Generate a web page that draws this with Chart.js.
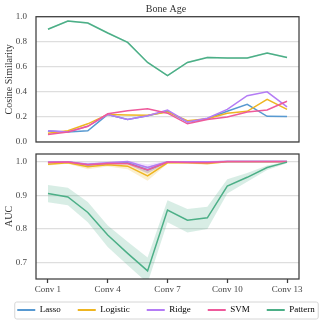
<!DOCTYPE html>
<html>
<head>
<meta charset="utf-8">
<script src="https://cdn.jsdelivr.net/npm/chart.js@4.4.1/dist/chart.umd.min.js"></script>
<style>
    html, body { margin: 0; padding: 0; background: #fff; }
    #quadro { position: relative; width: 332px; height: 325px; background: #fff; }
    #graficoCos { position: absolute; left: 0; top: 0; width: 332px; height: 150px; }
    #graficoAuc { position: absolute; left: 0; top: 150px; width: 332px; height: 175px; }
</style>
</head>
<body>
<div id="quadro">
    <canvas id="graficoCos" width="332" height="150"></canvas>
    <canvas id="graficoAuc" width="332" height="175"></canvas>
</div>
<script>
// ============================
// DADOS
// ============================
const camadas = [1, 2, 3, 4, 5, 6, 7, 8, 9, 10, 11, 12, 13];
const marcasX = [1, 4, 7, 10, 13];
const marcasCos = [0.0, 0.2, 0.4, 0.6, 0.8, 1.0];
const marcasAuc = [0.7, 0.8, 0.9, 1.0];
const modelos = ["Lasso", "Logistic", "Ridge", "SVM", "Pattern"];
const cores = ["#5799d1", "#eeb521", "#b47cf5", "#ee5a9b", "#4caf87"];

// similaridade de cosseno (painel de cima)
const cosLasso    = [0.088, 0.080, 0.090, 0.220, 0.180, 0.210, 0.245, 0.160, 0.185, 0.245, 0.300, 0.205, 0.203];
const cosLogistic = [0.070, 0.090, 0.145, 0.220, 0.215, 0.213, 0.240, 0.170, 0.185, 0.230, 0.245, 0.340, 0.260];
const cosRidge    = [0.090, 0.080, 0.125, 0.220, 0.180, 0.210, 0.255, 0.160, 0.190, 0.260, 0.370, 0.400, 0.280];
const cosSvm      = [0.060, 0.080, 0.125, 0.225, 0.250, 0.265, 0.230, 0.145, 0.180, 0.200, 0.240, 0.255, 0.325];
const cosPattern  = [0.900, 0.965, 0.950, 0.870, 0.795, 0.635, 0.530, 0.635, 0.675, 0.670, 0.670, 0.710, 0.675];
const cosPatternMin = [0.893, 0.958, 0.943, 0.863, 0.788, 0.628, 0.523, 0.628, 0.668, 0.663, 0.663, 0.703, 0.668];
const cosPatternMax = [0.907, 0.972, 0.957, 0.877, 0.802, 0.642, 0.537, 0.642, 0.682, 0.677, 0.677, 0.717, 0.682];

// AUC (painel de baixo)
const aucLasso    = [0.997, 0.998, 0.990, 0.994, 0.996, 0.975, 0.998, 0.998, 0.998, 1.000, 1.000, 1.000, 1.000];
const aucLassoMin = [0.994, 0.996, 0.985, 0.990, 0.992, 0.965, 0.996, 0.996, 0.996, 0.999, 0.999, 0.999, 0.999];
const aucLassoMax = [0.999, 1.000, 0.994, 0.997, 0.999, 0.984, 1.000, 1.000, 1.000, 1.000, 1.000, 1.000, 1.000];
const aucLogistic    = [0.992, 0.996, 0.984, 0.990, 0.986, 0.957, 0.996, 0.996, 0.994, 0.999, 0.999, 0.999, 0.999];
const aucLogisticMin = [0.988, 0.993, 0.977, 0.985, 0.977, 0.943, 0.993, 0.993, 0.990, 0.998, 0.998, 0.998, 0.998];
const aucLogisticMax = [0.996, 0.999, 0.990, 0.995, 0.994, 0.972, 0.999, 0.999, 0.998, 1.000, 1.000, 1.000, 1.000];
const aucRidge    = [0.998, 0.999, 0.992, 0.996, 1.000, 0.982, 0.999, 0.999, 0.999, 1.000, 1.000, 1.000, 1.000];
const aucRidgeMin = [0.996, 0.997, 0.988, 0.993, 0.997, 0.972, 0.997, 0.997, 0.997, 0.999, 0.999, 0.999, 0.999];
const aucRidgeMax = [1.000, 1.000, 0.996, 0.999, 1.002, 0.992, 1.001, 1.001, 1.001, 1.001, 1.001, 1.001, 1.001];
const aucSvm    = [0.997, 0.998, 0.990, 0.994, 0.994, 0.975, 0.998, 0.997, 0.996, 1.000, 1.000, 1.000, 1.000];
const aucSvmMin = [0.995, 0.996, 0.985, 0.990, 0.990, 0.964, 0.996, 0.995, 0.994, 0.999, 0.999, 0.999, 0.999];
const aucSvmMax = [0.999, 1.000, 0.994, 0.997, 0.997, 0.985, 1.000, 0.999, 0.998, 1.000, 1.000, 1.000, 1.000];
const aucPattern    = [0.905, 0.895, 0.849, 0.782, 0.728, 0.676, 0.856, 0.826, 0.833, 0.927, 0.953, 0.982, 0.998];
const aucPatternMin = [0.879, 0.870, 0.820, 0.747, 0.693, 0.640, 0.820, 0.790, 0.800, 0.905, 0.940, 0.975, 0.995];
const aucPatternMax = [0.930, 0.922, 0.880, 0.810, 0.762, 0.716, 0.885, 0.859, 0.866, 0.947, 0.966, 0.988, 1.000];

// ============================
// ESTILO GERAL
// ============================
Chart.defaults.font.family = "'Liberation Serif', 'Times New Roman', serif";
Chart.defaults.color = "#333";
Chart.defaults.animation = false;

function pontos(valores) {
    return camadas.map((c, i) => ({ x: c, y: valores[i] }));
}

function transparente(hex, alfa) {
    const n = parseInt(hex.slice(1), 16);
    return `rgba(${(n >> 16) & 255}, ${(n >> 8) & 255}, ${n & 255}, ${alfa})`;
}

function serie(indice, valores) {
    return {
        label: modelos[indice],
        data: pontos(valores),
        borderColor: cores[indice],
        backgroundColor: cores[indice],
        borderWidth: 1.5,
        pointRadius: 0,
        fill: false,
        order: 5 - indice,
        legenda: true
    };
}

function faixa(indice, valores, alvo) {
    return {
        label: "",
        data: pontos(valores),
        borderColor: "transparent",
        backgroundColor: transparente(cores[indice], 0.22),
        borderWidth: 0,
        pointRadius: 0,
        fill: alvo === undefined ? false : alvo,
        order: 10,
        legenda: false
    };
}

// ============================
// PLUGINS (moldura e caixa da legenda)
// ============================
const moldura = {
    id: "moldura",
    afterDraw(chart) {
        const { ctx, chartArea: a } = chart;
        ctx.save();
        ctx.strokeStyle = "#3d3d3d";
        ctx.lineWidth = 1.25;
        ctx.strokeRect(a.left, a.top, a.right - a.left, a.bottom - a.top);
        ctx.restore();
    }
};

const caixaLegenda = {
    id: "caixaLegenda",
    afterDraw(chart) {
        const leg = chart.legend;
        if (!leg || !leg.options.display || !leg.legendHitBoxes || !leg.legendHitBoxes.length) return;
        const caixas = leg.legendHitBoxes;
        const esq = Math.min(...caixas.map(c => c.left)) - 3;
        const dir = Math.max(...caixas.map(c => c.left + c.width)) + 3;
        const topo = caixas[0].top - 4;
        const base = caixas[0].top + caixas[0].height + 4;
        const ctx = chart.ctx;
        ctx.save();
        ctx.strokeStyle = "#d6d6d6";
        ctx.lineWidth = 1;
        ctx.beginPath();
        if (ctx.roundRect) ctx.roundRect(esq + 0.5, topo + 0.5, dir - esq, base - topo, 2);
        else ctx.rect(esq + 0.5, topo + 0.5, dir - esq, base - topo);
        ctx.stroke();
        ctx.restore();
    }
};

function rotulosLegenda(chart) {
    return chart.data.datasets
        .map((ds, i) => ({
            text: ds.label,
            fillStyle: ds.borderColor,
            strokeStyle: ds.borderColor,
            lineWidth: 0,
            hidden: false,
            datasetIndex: i,
            legenda: ds.legenda
        }))
        .filter(item => item.legenda);
}

// ============================
// EIXOS
// ============================
function eixoY(titulo, min, max, marcas) {
    return {
        type: "linear",
        position: "left",
        min: min,
        max: max,
        afterBuildTicks: s => { s.ticks = marcas.map(v => ({ value: v })); },
        afterFit: s => { s.width = 36; s.paddingTop = 0; s.paddingBottom = 0; },
        grid: { color: "#dedede", lineWidth: 1.25, drawTicks: false },
        border: { display: false },
        ticks: { padding: 9, font: { size: 9 }, color: "#444", callback: v => v.toFixed(1) },
        title: { display: true, text: titulo, font: { size: 10 }, color: "#333", padding: { top: 3.8, bottom: 0 } }
    };
}

function eixoX(comRotulos) {
    return {
        type: "linear",
        position: "bottom",
        min: 0.4,
        max: 13.6,
        afterBuildTicks: s => { s.ticks = marcasX.map(v => ({ value: v })); },
        afterFit: s => {
            s.height = comRotulos ? 9.5 : 0;
            s.paddingLeft = 0;
            s.paddingRight = 0;
            // rotulos passam da altura do eixo: nao recortar
            s._computeLabelArea = () => undefined;
        },
        grid: { display: comRotulos, drawOnChartArea: false, drawTicks: true, tickLength: 4, tickColor: "#3d3d3d", tickWidth: 1.25 },
        border: { display: false },
        ticks: { display: comRotulos, padding: 1.5, font: { size: 9 }, color: "#444", callback: v => "Conv " + v }
    };
}

const margemDireita = {
    type: "linear",
    position: "right",
    grid: { display: false },
    border: { display: false },
    ticks: { display: false },
    afterFit: s => { s.width = 33; }
};

// ============================
// PAINEL DE CIMA - COSINE SIMILARITY
// ============================
new Chart(document.getElementById("graficoCos"), {
    type: "line",
    data: {
        datasets: [
            serie(0, cosLasso),
            serie(1, cosLogistic),
            serie(2, cosRidge),
            serie(3, cosSvm),
            serie(4, cosPattern),
            faixa(4, cosPatternMin),
            faixa(4, cosPatternMax, 5)
        ]
    },
    options: {
        responsive: false,
        devicePixelRatio: 1,
        layout: { padding: { left: 0, right: 0, top: 0, bottom: 8 } },
        scales: {
            x: eixoX(false),
            y: eixoY("Cosine Similarity", 0, 1, marcasCos),
            margem: margemDireita
        },
        plugins: {
            title: { display: true, text: "Bone Age", font: { size: 10, weight: "normal" }, color: "#333", padding: { top: 3.8, bottom: 0.9 } },
            legend: { display: false },
            tooltip: { enabled: false }
        }
    },
    plugins: [moldura]
});

// ============================
// PAINEL DE BAIXO - AUC
// ============================
new Chart(document.getElementById("graficoAuc"), {
    type: "line",
    data: {
        datasets: [
            serie(0, aucLasso),
            serie(1, aucLogistic),
            serie(2, aucRidge),
            serie(3, aucSvm),
            serie(4, aucPattern),
            faixa(0, aucLassoMin),
            faixa(0, aucLassoMax, 5),
            faixa(1, aucLogisticMin),
            faixa(1, aucLogisticMax, 7),
            faixa(2, aucRidgeMin),
            faixa(2, aucRidgeMax, 9),
            faixa(3, aucSvmMin),
            faixa(3, aucSvmMax, 11),
            faixa(4, aucPatternMin),
            faixa(4, aucPatternMax, 13)
        ]
    },
    options: {
        responsive: false,
        devicePixelRatio: 1,
        layout: { padding: { left: 0, right: 0, top: 4, bottom: 0.5 } },
        scales: {
            x: eixoX(true),
            y: eixoY("AUC", 0.652, 1.022, marcasAuc),
            margem: margemDireita
        },
        plugins: {
            legend: {
                display: true,
                position: "bottom",
                labels: { boxWidth: 18, boxHeight: 2, padding: 17, font: { size: 9 }, color: "#333", generateLabels: rotulosLegenda }
            },
            tooltip: { enabled: false }
        }
    },
    plugins: [moldura, caixaLegenda]
});
</script>
</body>
</html>
